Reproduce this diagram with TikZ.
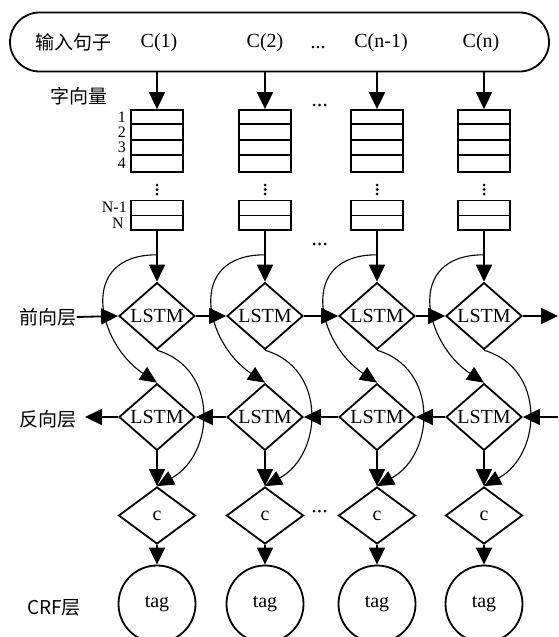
\documentclass[tikz,border=0pt]{standalone}
\usepackage{fontspec}
\setmainfont{Liberation Serif}
\newfontfamily\cjk{Noto Sans CJK SC}
\usetikzlibrary{arrows.meta,shapes.geometric,calc}
\begin{document}
\begin{tikzpicture}[x=1pt,y=-1pt,
  thickline/.style={line width=1.8pt},
  arr/.style={line width=1.8pt,-{Triangle[length=17pt,width=16pt]}},
  carr/.style={line width=1.1pt,-{Triangle[length=17pt,width=15pt]}},
  dia/.style={diamond,draw,line width=1.8pt,minimum width=76pt,minimum height=56pt,inner sep=0pt,font=\fontsize{20}{20}\selectfont},
  vbox/.style={rectangle,draw,line width=1.8pt,minimum width=52pt,inner sep=0pt},
  lab/.style={font=\fontsize{20}{20}\selectfont,inner sep=0pt},
  cjklab/.style={font=\cjk\fontsize{19}{19}\selectfont,inner sep=0pt},
  num/.style={font=\fontsize{16}{16}\selectfont,inner sep=0pt,anchor=east},
  tagc/.style={circle,draw,line width=1.8pt,minimum size=77pt,inner sep=0pt,font=\fontsize{20}{20}\selectfont},
  dotm/.style={fill=black,circle,inner sep=0pt,minimum size=3pt}
]
\useasboundingbox (0,0) rectangle (558,637);
\clip (0,0) rectangle (558,637);
% top box
\node[draw,line width=1.8pt,rounded corners=29.5pt,minimum width=539pt,minimum height=59pt,inner sep=0pt] (top) at (279.5,42) {};
\node[cjklab] (insent) at (73.5,42.5) {输入句子};
\node[lab] (c1lab) at (159,43) {C(1)};
\node[lab] (c2lab) at (265,43) {C(2)};
\node[lab,anchor=base] (cdots) at (318,48) {...};
\node[lab] (c3lab) at (381,43) {C(n-1)};
\node[lab] (c4lab) at (481,43) {C(n)};
% left labels
\node[cjklab] (zxl) at (79,96) {字向量};
\node[cjklab] (lf) at (48,317) {前向层};
\node[cjklab] (lb) at (48,419) {反向层};
\node[cjklab] (lcrf) at (54,608) {CRF层};
% numbers
\node[num] (n1) at (126,117.5) {1};
\node[num] (n2) at (126,132) {2};
\node[num] (n3) at (126,147.5) {3};
\node[num] (n4) at (126,163.5) {4};
\node[num] (nn1) at (127,207.5) {N-1};
\node[num] (nn) at (124,223) {N};
% columns
\foreach \i/\x in {1/157,2/265,3/377,4/484}{
  \node[vbox,minimum height=62pt] (v\i) at (\x,141) {};
  \draw[thickline] (\x-26,124) -- (\x+26,124);
  \draw[thickline] (\x-26,140) -- (\x+26,140);
  \draw[thickline] (\x-26,155) -- (\x+26,155);
  \node[dotm] (da\i) at (\x,185) {};
  \node[dotm] (db\i) at (\x,189.5) {};
  \node[dotm] (dc\i) at (\x,194) {};
  \node[vbox,minimum height=29.5pt] (w\i) at (\x,215.25) {};
  \draw[thickline] (\x-26,215.5) -- (\x+26,215.5);
  \node[dia] (f\i) at (\x,316) {LSTM};
  \node[dia] (b\i) at (\x,417) {LSTM};
  \node[dia,minimum width=77pt,minimum height=57pt] (c\i) at (\x,515.5) {c};
  \node[tagc] (t\i) at (\x,604) {tag};
  \draw[arr] (top.south -| v\i.north) -- (v\i.north);
  \draw[arr] (w\i.south) -- (f\i.north);
  \draw[carr] ($(w\i.south)!0.47!(f\i.north)$) .. controls +(-80,0) and +(-60,-40) .. (b\i.north);
  \draw[carr] (f\i.south) .. controls +(62,18) and +(58,-32) .. (c\i.north);
  \draw[arr] (b\i.south) -- (c\i.north);
  \draw[arr] (c\i.south) -- (t\i.north);
}
% horizontal dots
\foreach \y in {105,244,511}{
  \node[dotm] at (314,\y) {};
  \node[dotm] at (319.5,\y) {};
  \node[dotm] at (325,\y) {};
}
% forward chain
\coordinate (fr) at (558,316);
\draw[arr] (lf.east) -- (f1.west);
\draw[arr] (f1.east) -- (f2.west);
\draw[arr] (f2.east) -- (f3.west);
\draw[arr] (f3.east) -- (f4.west);
\draw[arr] (f4.east) -- (fr);
% backward chain
\coordinate (br) at (558,417);
\coordinate (bl) at (85,417);
\draw[arr] (br) -- (b4.east);
\draw[arr] (b4.west) -- (b3.east);
\draw[arr] (b3.west) -- (b2.east);
\draw[arr] (b2.west) -- (b1.east);
\draw[arr] (b1.west) -- (bl);
\end{tikzpicture}
\end{document}
